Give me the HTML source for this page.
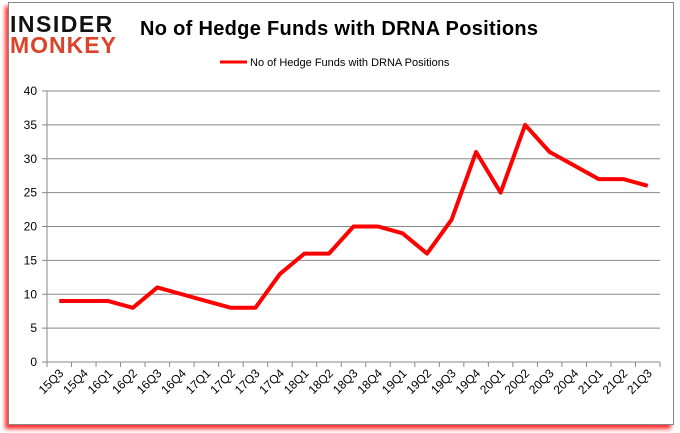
<!DOCTYPE html>
<html><head><meta charset="utf-8"><style>
body{margin:0;width:680px;height:433px;background:#fff;overflow:hidden;font-family:"Liberation Sans",sans-serif}
#frame{position:absolute;left:8px;top:2px;width:664px;height:421px;border:1px solid #888;box-shadow:-3px 4px 4px #f33;background:#fff}
</style></head><body>
<div id="frame"></div>
<svg id="chart" width="680" height="433" style="position:absolute;left:0;top:0">
<g>
<text x="10" y="32" font-size="23" font-weight="bold" fill="#111" font-family="Liberation Sans" letter-spacing="1.5">INSIDER</text>
<text x="10" y="53" font-size="23" font-weight="bold" fill="#d9442b" font-family="Liberation Sans" letter-spacing="1">MONKEY</text>
</g>
<text x="140" y="35" font-size="20" font-weight="bold" fill="#000" textLength="398">No of Hedge Funds with DRNA Positions</text>
<line x1="220" y1="62" x2="247" y2="62" stroke="#f00" stroke-width="3"/>
<text x="250" y="66" font-size="11" fill="#000">No of Hedge Funds with DRNA Positions</text>
<g id="grid"></g><g id="axes"></g><g id="series"></g>
</svg>
<script>
const categories=["15Q3","15Q4","16Q1","16Q2","16Q3","16Q4","17Q1","17Q2","17Q3","17Q4","18Q1","18Q2","18Q3","18Q4","19Q1","19Q2","19Q3","19Q4","20Q1","20Q2","20Q3","20Q4","21Q1","21Q2","21Q3"];
const values=[9,9,9,8,11,10,9,8,8,13,16,16,20,20,19,16,21,31,25,35,31,29,27,27,26];
const yTicks=[0,5,10,15,20,25,30,35,40];
const NS="http://www.w3.org/2000/svg";
const x0=47,x1=660,y0=362,y1=91,yMax=40;
const step=(x1-x0)/categories.length;
const xs=i=>x0+step*(i+0.5);
const ys=v=>y0-(v/yMax)*(y0-y1);
function mk(tag,attrs,parent){const e=document.createElementNS(NS,tag);for(const k in attrs)e.setAttribute(k,attrs[k]);document.getElementById(parent).appendChild(e);return e;}
yTicks.forEach(t=>{
 const l=mk('line',{x1:x0-5,x2:x1,y1:ys(t),y2:ys(t),stroke:'#888','stroke-width':1},'grid');
 
 
 const tx=mk('text',{x:x0-10,y:ys(t)+4,'font-size':12,'text-anchor':'end',fill:'#000'},'axes');
 tx.textContent=t;
 
 
});
const ax=mk('line',{x1:x0,x2:x0,y1:y1,y2:y0,stroke:'#888'},'axes');


for(let i=0;i<=categories.length;i++){
 const t=mk('line',{x1:x0+step*i,x2:x0+step*i,y1:y0,y2:y0+5,stroke:'#888'},'axes');
 
 
}
categories.forEach((c,i)=>{
 const x=xs(i)+5,y=y0+12;
 const t=mk('text',{x:x,y:y,'font-size':12,'text-anchor':'end',fill:'#000',transform:`rotate(-45 ${x} ${y})`},'axes');
 t.textContent=c;
 
 
});
const p=mk('polyline',{points:values.map((v,i)=>xs(i)+','+ys(v)).join(' '),fill:'none',stroke:'#f00','stroke-width':4,'stroke-linejoin':'round'},'series');


</script>
</body></html>
